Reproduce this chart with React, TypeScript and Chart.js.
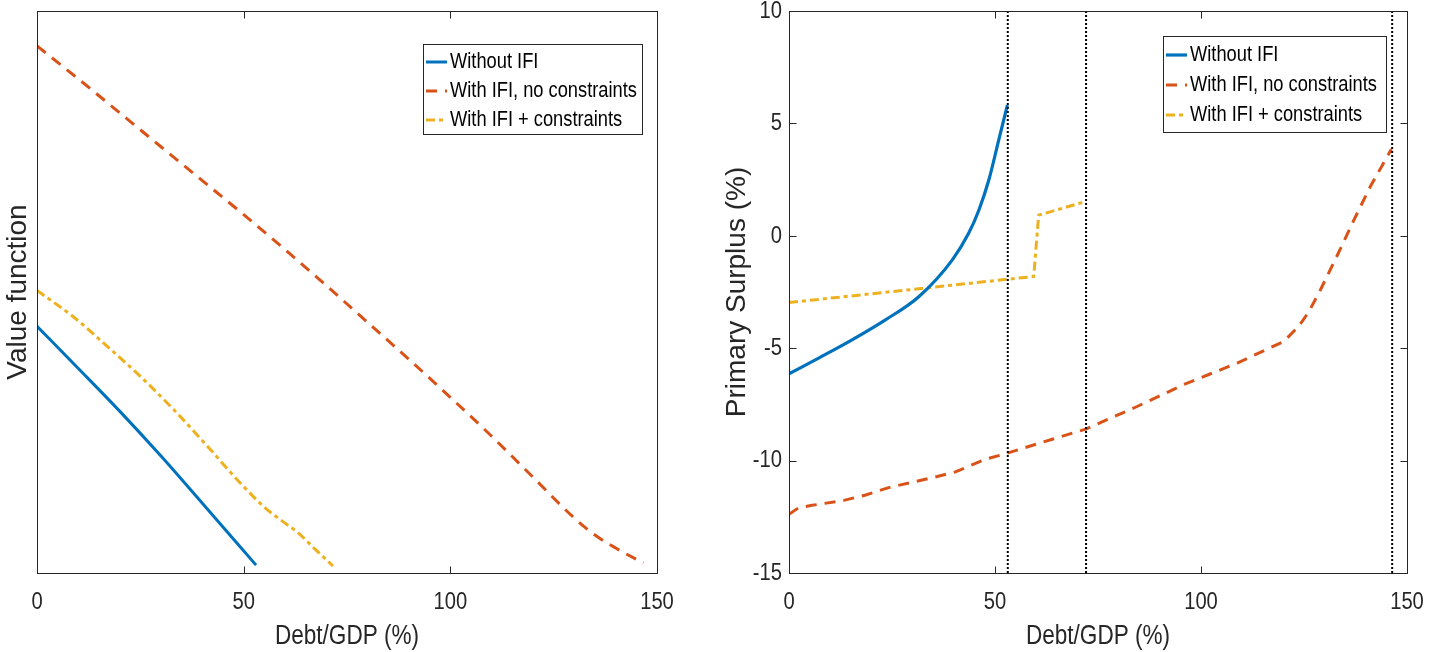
import React, { useEffect, useRef } from "react";
import { Chart, registerables } from "chart.js";

Chart.register(...registerables);

// ---------- data ----------
const xTicks = [0, 50, 100, 150];
const rightYTicks = [-15, -10, -5, 0, 5, 10];
const seriesLabels = ["Without IFI", "With IFI, no constraints", "With IFI + constraints"];
const xTitle = "Debt/GDP (%)";
const leftYTitle = "Value function";
const rightYTitle = "Primary Surplus (%)";

// Left panel: value function (axis carries no numbers; arbitrary units)
const vfNoIfiX = [0, 10, 20, 30, 40, 53];
const vfNoIfiY = [43.9, 36.4, 28.8, 20.8, 12.4, 1.4];
const vfIfiX = [0, 10, 20, 30, 40, 50, 60, 70, 80, 90, 100, 110, 120, 130, 135, 140, 146.7];
const vfIfiY = [93.78, 87.92, 81.88, 75.84, 69.81, 63.77, 57.55, 51.15, 44.58, 38.01, 31.26, 24.33, 17.05, 9.77, 6.75, 4.44, 1.78];
const vfConsX = [0, 9, 17, 25, 33, 41, 49, 55, 60, 63, 67, 71.6];
const vfConsY = [50.27, 45.47, 40.32, 34.99, 29.13, 22.74, 16.16, 11.72, 8.88, 7.28, 4.44, 1.24];

// Right panel: primary surplus (%)
const psNoIfiX = [0, 7.2, 15.3, 23.4, 31.5, 39.6, 43.6, 46.1, 48.5, 50.9, 53.0];
const psNoIfiY = [-6.14, -5.44, -4.63, -3.74, -2.71, -1.08, 0.11, 1.15, 2.48, 4.26, 5.81];
const psIfiX = [0, 2.4, 5.6, 13.3, 18.6, 24.2, 34.8, 40.4, 47.7, 53, 63.9, 72, 83.7, 95.8, 108.8, 120.1, 123.7, 126.2, 129, 133, 137.1, 141.1, 146.2];
const psIfiY = [-12.39, -12.09, -11.99, -11.77, -11.53, -11.2, -10.76, -10.5, -9.94, -9.67, -9.05, -8.6, -7.66, -6.62, -5.66, -4.7, -4.03, -3.37, -2.4, -0.9, 0.7, 2.19, 3.85];
const psConsX = [0, 59.4, 60.6, 71.7];
const psConsY = [-2.97, -1.81, 0.92, 1.51];

// Debt limits (vertical dotted lines)
const debtLimits = [53.1, 72.1, 146.4];

// ---------- styles ----------
const BLUE = "#0072BD";
const RED = "#D95319";
const YELLOW = "#EDB120";
const AXIS = "#262626";
const REGULAR = '"Liberation Sans", Arial, Helvetica, sans-serif';
const SX = 0.82; // horizontal compression of horizontal text (matches the reference's tall glyphs)

const zip = (xs: number[], ys: number[]) => xs.map((x, i) => ({ x, y: ys[i] }));

function drawStretched(ctx: CanvasRenderingContext2D, text: string, x: number, y: number, size: number, align: CanvasTextAlign, color: string) {
  ctx.save();
  ctx.translate(x, y);
  ctx.scale(SX, 1);
  ctx.font = `${size}px ${REGULAR}`;
  ctx.fillStyle = color;
  ctx.textAlign = align;
  ctx.textBaseline = "middle";
  ctx.fillText(text, 0, 0);
  ctx.restore();
}

const framePlugin = {
  id: "frame",
  afterDraw(chart: any, _args: any, o: any) {
    const { ctx, chartArea } = chart;
    const { left, right, top, bottom } = chartArea;
    const L = Math.round(left) + 0.5, R = Math.round(right) + 0.5;
    const T = Math.round(top) + 0.5, B = Math.round(bottom) + 0.5;
    ctx.save();
    ctx.strokeStyle = o.color;
    ctx.lineWidth = 1;
    ctx.setLineDash([]);
    ctx.strokeRect(L, T, R - L, B - T);
    const len = o.tickLen;
    ctx.beginPath();
    const xs = chart.scales.x;
    xs.ticks.forEach((t: any) => {
      if (t.value > xs.min && t.value < xs.max) {
        const p = Math.round(xs.getPixelForValue(t.value)) + 0.5;
        ctx.moveTo(p, B); ctx.lineTo(p, B - len);
        ctx.moveTo(p, T); ctx.lineTo(p, T + len);
      }
    });
    if (o.yTicks) {
      const ys = chart.scales.y;
      ys.ticks.forEach((t: any) => {
        if (t.value > ys.min && t.value < ys.max) {
          const p = Math.round(ys.getPixelForValue(t.value)) + 0.5;
          ctx.moveTo(L, p); ctx.lineTo(L + len, p);
          ctx.moveTo(R, p); ctx.lineTo(R - len, p);
        }
      });
    }
    ctx.stroke();
    ctx.restore();
  },
};

const axisTextPlugin = {
  id: "axisText",
  afterDraw(chart: any, _args: any, o: any) {
    const { ctx, chartArea } = chart;
    const xs = chart.scales.x;
    xs.ticks.forEach((t: any) => {
      drawStretched(ctx, String(t.value), xs.getPixelForValue(t.value), o.xLabelY, o.tickSize, "center", AXIS);
    });
    if (o.yLabels) {
      const ys = chart.scales.y;
      ys.ticks.forEach((t: any) => {
        drawStretched(ctx, String(t.value), chartArea.left - o.yLabelGap, ys.getPixelForValue(t.value), o.tickSize, "right", AXIS);
      });
    }
    drawStretched(ctx, o.xTitle, (chartArea.left + chartArea.right) / 2, o.xTitleY, o.titleSize, "center", AXIS);
  },
};

const boxLegendPlugin = {
  id: "boxLegend",
  afterDraw(chart: any, _args: any, o: any) {
    const { ctx } = chart;
    const items = chart.data.datasets.filter((d: any) => d.label);
    ctx.save();
    ctx.fillStyle = "#ffffff";
    ctx.fillRect(o.x, o.y, o.w, o.h);
    ctx.strokeStyle = AXIS;
    ctx.lineWidth = 1;
    ctx.setLineDash([]);
    ctx.strokeRect(o.x + 0.5, o.y + 0.5, o.w, o.h);
    items.forEach((d: any, i: number) => {
      const cy = o.y + o.firstRow + i * o.rowGap;
      ctx.setLineDash(d.borderDash || []);
      ctx.strokeStyle = d.borderColor;
      ctx.lineWidth = d.borderWidth;
      ctx.beginPath();
      ctx.moveTo(o.x + 3, cy);
      ctx.lineTo(o.x + o.sampleEnd, cy);
      ctx.stroke();
      ctx.setLineDash([]);
      drawStretched(ctx, d.label, o.x + o.textX, cy, o.fontSize, "left", "#000");
    });
    ctx.restore();
  },
};

function xScale() {
  return {
    type: "linear",
    min: 0,
    max: 150,
    afterBuildTicks: (s: any) => { s.ticks = xTicks.map((v) => ({ value: v })); },
    afterFit: (s: any) => { s.height = 79; s.paddingLeft = 0; s.paddingRight = 0; },
    grid: { display: false, drawTicks: false },
    border: { display: false },
    ticks: { display: false },
  };
}

function LeftChart() {
  const ref = useRef<HTMLCanvasElement>(null);
  useEffect(() => {
    const chart = new Chart(ref.current as HTMLCanvasElement, {
      type: "line",
      data: {
        datasets: [
          { label: seriesLabels[0], data: zip(vfNoIfiX, vfNoIfiY), borderColor: BLUE, borderWidth: 3, pointRadius: 0, cubicInterpolationMode: "monotone" },
          { label: seriesLabels[1], data: zip(vfIfiX, vfIfiY), borderColor: RED, borderWidth: 3, borderDash: [11, 8], pointRadius: 0, cubicInterpolationMode: "monotone" },
          { label: seriesLabels[2], data: zip(vfConsX, vfConsY), borderColor: YELLOW, borderWidth: 3, borderDash: [9, 4, 4, 4], pointRadius: 0, cubicInterpolationMode: "monotone" },
        ],
      } as any,
      options: {
        responsive: false,
        animation: false,
        parsing: false,
        layout: { padding: { left: 0, right: 43, top: 11, bottom: 0 } },
        plugins: {
          legend: { display: false },
          tooltip: { enabled: false },
          frame: { color: AXIS, tickLen: 7, yTicks: false },
          axisText: { xLabelY: 602, xTitle, xTitleY: 636, tickSize: 24.6, titleSize: 27.5, yLabels: false },
          boxLegend: { x: 423, y: 44, w: 219, h: 90, firstRow: 18, rowGap: 29, sampleEnd: 24, textX: 27, fontSize: 22.3 },
        } as any,
        scales: {
          x: xScale(),
          y: {
            type: "linear",
            min: 0,
            max: 100,
            afterFit: (s: any) => { s.width = 37; s.paddingTop = 0; s.paddingBottom = 0; },
            grid: { display: false, drawTicks: false },
            border: { display: false },
            ticks: { display: false },
            title: { display: true, text: leftYTitle, color: AXIS, font: { family: REGULAR, size: 28 }, padding: { top: 1, bottom: 0 } },
          },
        } as any,
      },
      plugins: [framePlugin, axisTextPlugin, boxLegendPlugin],
    });
    return () => chart.destroy();
  }, []);
  return <canvas ref={ref} width={700} height={652} style={{ position: "absolute", left: 0, top: 0 }} />;
}

function RightChart() {
  const ref = useRef<HTMLCanvasElement>(null);
  useEffect(() => {
    const vlines = debtLimits.map((x) => ({
      label: "",
      data: [{ x, y: rightYTicks[0] }, { x, y: rightYTicks[rightYTicks.length - 1] }],
      borderColor: "#000",
      borderWidth: 2,
      borderDash: [2, 2],
      pointRadius: 0,
    }));
    const chart = new Chart(ref.current as HTMLCanvasElement, {
      type: "line",
      data: {
        datasets: [
          ...vlines,
          { label: seriesLabels[0], data: zip(psNoIfiX, psNoIfiY), borderColor: BLUE, borderWidth: 3.2, pointRadius: 0, cubicInterpolationMode: "monotone" },
          { label: seriesLabels[1], data: zip(psIfiX, psIfiY), borderColor: RED, borderWidth: 3, borderDash: [11, 8], pointRadius: 0, tension: 0 },
          { label: seriesLabels[2], data: zip(psConsX, psConsY), borderColor: YELLOW, borderWidth: 3, borderDash: [9, 4, 4, 4], pointRadius: 0, tension: 0 },
        ],
      } as any,
      options: {
        responsive: false,
        animation: false,
        parsing: false,
        layout: { padding: { left: 0, right: 38, top: 11, bottom: 0 } },
        plugins: {
          legend: { display: false },
          tooltip: { enabled: false },
          frame: { color: AXIS, tickLen: 7, yTicks: true },
          axisText: { xLabelY: 602, xTitle, xTitleY: 636, tickSize: 24.6, titleSize: 27.5, yLabels: true, yLabelGap: 7 },
          boxLegend: { x: 443, y: 36, w: 223, h: 96, firstRow: 19, rowGap: 30, sampleEnd: 24, textX: 27, fontSize: 22.3 },
        } as any,
        scales: {
          x: xScale(),
          y: {
            type: "linear",
            min: -15,
            max: 10,
            afterBuildTicks: (s: any) => { s.ticks = rightYTicks.map((v) => ({ value: v })); },
            afterFit: (s: any) => { s.width = 69; s.paddingTop = 0; s.paddingBottom = 0; },
            grid: { display: false, drawTicks: false },
            border: { display: false },
            ticks: { display: false },
            title: { display: true, text: rightYTitle, color: AXIS, font: { family: REGULAR, size: 28 }, padding: { top: 0, bottom: 0 } },
          },
        } as any,
      },
      plugins: [framePlugin, axisTextPlugin, boxLegendPlugin],
    });
    return () => chart.destroy();
  }, []);
  return <canvas ref={ref} width={725} height={652} style={{ position: "absolute", left: 720, top: 0 }} />;
}

export default function App() {
  return (
    <div style={{ position: "absolute", left: 0, top: 0, width: 1445, height: 652, background: "#fff", overflow: "hidden" }}>
      <LeftChart />
      <RightChart />
    </div>
  );
}
